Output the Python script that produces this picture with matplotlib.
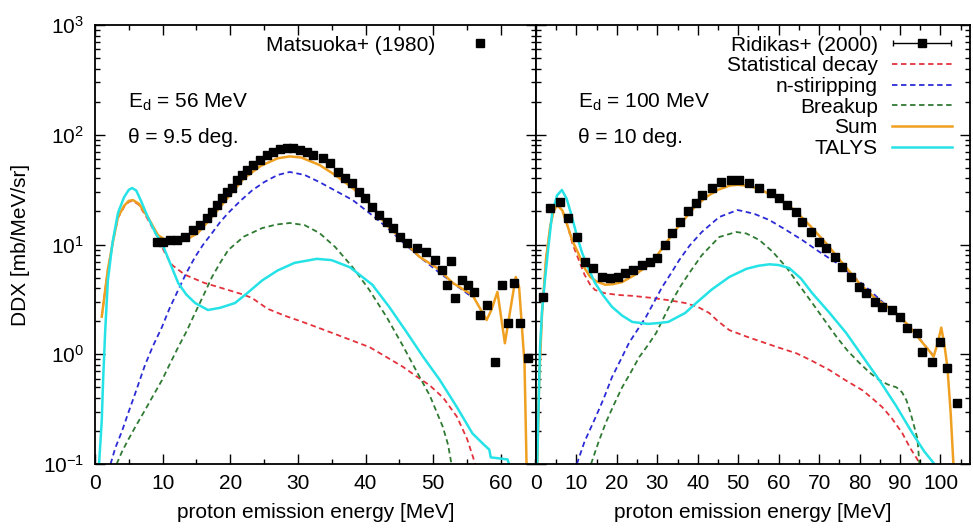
import numpy as np
import matplotlib
matplotlib.use("Agg")
import matplotlib.pyplot as plt
from matplotlib.ticker import LogLocator, MultipleLocator, NullFormatter, LogFormatterSciNotation
from matplotlib.container import ErrorbarContainer
from matplotlib.legend_handler import HandlerErrorbar

plt.rcParams['font.family'] = ['Liberation Sans', 'DejaVu Sans']
plt.rcParams['mathtext.default'] = 'regular'
plt.rcParams['font.size'] = 15

# ---- left panel: Ed = 56 MeV ----
E_m = [9.1, 10.1, 11.1, 12.1, 13.3, 14.5, 15.5, 16.5, 17.3, 18.0, 18.8, 19.5, 20.2, 21.0, 21.7,
       22.5, 23.3, 24.4, 25.4, 26.3, 27.3, 28.4, 29.2, 30.3, 31.3, 32.2, 33.7, 34.7, 35.9, 36.9,
       38.0, 39.0, 39.9, 40.9, 42.0, 43.1, 44.0, 45.1, 46.1, 47.6, 49.0, 50.2, 51.3, 52.1, 52.7,
       53.2, 54.2, 55.1, 56.1, 56.9, 58.0, 59.1, 60.1, 61.0, 62.0, 62.9, 64.0]
ddx_m = [10.5, 10.5, 10.9, 10.9, 11.7, 13.6, 15.1, 17.4, 19.8, 22.9, 26.5, 30, 33, 38.7, 43,
         47.8, 53, 59, 65, 70, 74, 76, 76, 73, 70, 65, 61, 55, 46, 40,
         36, 30, 26.5, 22, 18.6, 16, 14.1, 11.7, 10.3, 9.3, 8.5, 7.2, 5.9, 4.3, 7.1,
         3.25, 4.7, 4.3, 3.7, 2.28, 2.81, 0.85, 4.3, 1.93, 4.45, 1.93, 0.93]

E_sum_l = [1.0, 1.9, 2.7, 3.4, 4.3, 5.0, 5.6, 6.5, 7.8, 9.3, 10.4, 11.4, 12.4, 13.3, 15.2, 17.3,
           19.7, 22, 24.5, 27, 28.8, 30.5, 33.2, 35.5, 38.1, 40.5, 43.1, 45.5, 48, 50.6, 52.9,
           55.8, 57.9, 58.6, 59.5, 60.6, 62.2, 62.7, 63.5, 63.8]
sum_l = [2.2, 5.9, 11, 17.8, 22.5, 25, 25.4, 23.5, 17.8, 12.2, 11, 10.5, 10.6, 10.9, 12.7, 17.8,
         27, 40, 52, 61, 63.5, 62, 53, 43, 32.7, 24, 15, 11, 7.7, 6.1, 4.46,
         3.47, 2.05, 2.53, 3.7, 1.26, 5.06, 4.1, 0.83, 0.1]

E_stat_l = [1.0, 1.9, 2.7, 3.4, 4.3, 5.0, 5.6, 6.5, 7.8, 9.3, 10.4, 11.4, 13.3, 16.2, 19.7, 21.9,
            23.2, 25.5, 28, 30.7, 33.5, 36.6, 40.6, 43, 45.5, 47.5, 49.5, 51.5, 53.5, 55, 55.9, 56.2]
stat_l = [2.2, 5.9, 11, 17.5, 22, 24.5, 25, 23, 17, 11.5, 8.2, 6.5, 5.3, 4.46, 3.85, 3.5,
          3.26, 2.6, 2.25, 1.97, 1.7, 1.44, 1.16, 0.95, 0.77, 0.63, 0.52, 0.4, 0.27, 0.17, 0.115, 0.1]

E_ns_l = [2.3, 3, 4, 4.9, 6, 7.4, 8.6, 9.9, 11, 12.3, 13.5, 14.8, 16, 17.3, 18.5, 19.7, 21.5,
          23.2, 25, 27, 28.8, 31, 33.2, 35.5, 38.1, 40.5, 43.1, 45.5, 48, 50.5, 52.9, 55.8]
ns_l = [0.1, 0.14, 0.2, 0.29, 0.45, 0.8, 1.2, 1.77, 2.6, 3.85, 5.5, 7.7, 10, 12.7, 16, 19.4, 25,
        31, 37, 43, 45.8, 43, 37, 31, 25.4, 19.5, 14.4, 10.5, 7.7, 5.8, 4.46, 3.3]

E_bu_l = [3.2, 4, 4.9, 6, 7.4, 8.6, 9.9, 11, 12.3, 13.5, 14.8, 16, 17.3, 18.5, 19.7, 22, 24.7,
          26.8, 28.8, 31, 33.2, 35.5, 38.1, 40.5, 43.1, 45.5, 48, 49.5, 51.4, 52.2, 52.7]
bu_l = [0.1, 0.13, 0.166, 0.22, 0.31, 0.42, 0.58, 0.8, 1.16, 1.6, 2.38, 3.4, 5.06, 6.8, 8.9, 11.8, 14.1,
        15.2, 15.7, 15, 12.7, 9.5, 6.2, 3.9, 2.19, 1.2, 0.62, 0.42, 0.22, 0.15, 0.1]

E_tal_l = [0.6, 1.0, 1.2, 1.5, 1.9, 2.6, 3.4, 4.3, 5.0, 5.5, 6.1, 6.8, 7.8, 9.0, 9.9, 11, 12.3,
           13.5, 14.8, 16.7, 18.5, 20.7, 22.5, 24.7, 27, 29.5, 32.8, 35, 37.7, 41, 43.5, 46.1,
           48.5, 51, 53.5, 55.8, 57.5, 58.3, 58.5, 61, 61.2]
tal_l = [0.1, 0.25, 0.58, 1.6, 4.7, 10.5, 19.4, 27, 31.5, 32.7, 31, 25, 17.8, 12.5, 10.3, 7, 4.46,
         3.5, 2.93, 2.53, 2.65, 2.93, 3.6, 4.7, 5.8, 6.8, 7.4, 7.2, 6.2, 4.3, 2.7, 1.58,
         0.95, 0.58, 0.33, 0.19, 0.15, 0.135, 0.115, 0.11, 0.1]

# ---- right panel: Ed = 100 MeV ----
E_r = [1.8, 3.5, 5.9, 8, 10.1, 12.1, 14.1, 16.3, 18.3, 20.3, 22, 24, 26.2, 28.2, 29.9,
       31.9, 33.7, 35.6, 37.6, 39.5, 41.1, 43.6, 45.8, 48.3, 50.2, 52.7, 55.2, 58.2, 60.1, 62.1,
       64.4, 65.8, 68, 70, 71.8, 73.8, 75.7, 77.9, 79.9, 81.7, 83.7, 85.6, 87.9, 89.9, 91.8,
       94.1, 95.5, 97.8, 99.8, 101.7, 104]
ddx_r = [3.3, 21.5, 24.4, 17.4, 11.7, 6.9, 6.1, 5.06, 5.0, 5.06, 5.5, 5.9, 6.5, 6.9, 7.5,
         9.9, 12.7, 16, 20, 24, 28, 33, 37, 39, 38.7, 36, 32.7, 29.5, 26.5, 22.9,
         19.8, 16, 13, 10.5, 9.3, 7.7, 6.2, 5.06, 4.1, 3.6, 3.0, 2.7, 2.53, 2.19, 1.74,
         1.56, 1.05, 0.85, 1.29, 0.75, 0.36]

E_sum_r = [0.3, 0.8, 1.5, 2.5, 3.5, 4.3, 5.2, 6.5, 7.9, 9, 10.4, 12, 13.4, 15, 17.1, 19, 21.3,
           24.5, 26.5, 28.7, 30.5, 32.7, 34.5, 36.1, 39, 42, 45, 48, 50, 53, 56, 60, 64, 68, 72,
           76, 80, 84, 88, 92, 95, 97, 98.3, 99.4, 100.2, 101, 101.7, 102.5, 103.2]
sum_r = [0.1, 0.6, 2.4, 7.5, 14.5, 20, 22.9, 20.5, 14.4, 10.8, 8.4, 6.1, 5.06, 4.6, 4.3, 4.35, 4.55,
         5.3, 6, 6.8, 8.5, 11, 13.5, 16, 21.5, 27, 31.5, 34.5, 35, 34, 31, 26, 20.5, 14.5, 10,
         6.6, 4.4, 3.2, 2.55, 1.85, 1.35, 1.1, 0.95, 1.3, 1.75, 1.2, 0.77, 0.3, 0.1]

E_stat_r = [0.3, 0.8, 1.5, 2.5, 3.5, 4.3, 5.2, 6.5, 7.9, 9, 10.4, 12, 13.4, 14.6, 17, 20.3, 24,
            28.7, 33, 36.9, 40, 42.8, 45, 47.8, 52, 56, 60, 64.4, 68, 72.5, 76.5, 80.7, 83, 85.6,
            88, 90.6, 92.5, 94.3, 94.7]
stat_r = [0.1, 0.6, 2.4, 7.5, 14.5, 20, 22.9, 20.5, 14.4, 10.2, 7.5, 5.3, 4.3, 3.85, 3.6, 3.47, 3.4,
          3.26, 3.1, 2.93, 2.7, 2.38, 2.0, 1.66, 1.45, 1.29, 1.15, 1.02, 0.88, 0.72, 0.58, 0.47, 0.4, 0.33,
          0.26, 0.19, 0.14, 0.11, 0.1]

E_ns_r = [10.1, 12, 14.8, 16.8, 18.8, 21, 23, 25, 27.2, 29.2, 31.2, 33.3, 35.4, 38, 41, 45.3, 49.8,
          51, 54, 57.7, 61.5, 65.8, 70, 74.3, 78.5, 82.4, 86.5, 90.6, 93.5, 96.5, 98]
ns_r = [0.1, 0.16, 0.27, 0.4, 0.62, 0.9, 1.27, 1.65, 2.19, 3.0, 4.1, 5.4, 7.2, 9.8, 13, 17.8, 20.6,
        20.2, 19, 16.7, 13.8, 11, 8.6, 6.8, 5.1, 3.86, 2.8, 2.05, 1.6, 1.16, 1.0]

E_bu_r = [13.6, 15.5, 17.3, 19.3, 21.3, 23.4, 25.5, 27.6, 29.7, 31.7, 33.7, 35.8, 37.9, 41, 45.3,
          49.5, 52, 55.2, 58.5, 61.9, 65, 68.3, 71.3, 74.3, 77, 80, 82.5, 84.9, 87, 89.1, 90.5,
          91.6, 92.5, 93.1, 94.3, 94.8]
bu_r = [0.1, 0.16, 0.24, 0.35, 0.5, 0.68, 0.94, 1.2, 1.56, 2.2, 3.1, 4.2, 5.5, 8, 11.7,
        13, 12.6, 11, 8.6, 6.2, 4.3, 2.93, 2.05, 1.44, 1.08, 0.83, 0.68, 0.58, 0.53, 0.5, 0.45,
        0.38, 0.3, 0.25, 0.17, 0.1]

E_tal_r = [0.3, 0.6, 1, 1.5, 2.2, 3, 4, 5.2, 6.4, 7.6, 8.9, 10.1, 11.4, 13, 14.6, 16.7, 18.8,
           21.3, 23.8, 27.7, 30, 32.7, 36.9, 39.6, 43.5, 47.8, 52, 55, 57.7, 60, 62.6, 65.5, 68.3,
           72.5, 76.7, 80.8, 84.9, 89, 93.1, 96, 98.5]
tal_r = [0.1, 0.3, 1.16, 2.5, 4.7, 9, 19.4, 28, 31.4, 26, 17.8, 12, 8.4, 6, 4.46, 3.4, 2.7,
         2.25, 1.97, 1.89, 1.92, 1.97, 2.38, 2.93, 3.9, 5.06, 6.0, 6.4, 6.6, 6.5, 6.1, 4.9, 3.6,
         2.4, 1.56, 0.95, 0.58, 0.34, 0.19, 0.13, 0.1]

C_STAT = '#e3323c'
C_NS = '#2b2bd6'
C_BU = '#2f7a32'
C_SUM = '#f0a020'
C_TAL = '#25e2e6'


def style_axis(ax, xmax, xticks):
    ax.set_yscale('log')
    ax.set_xlim(0, xmax)
    ax.set_ylim(0.1, 1000)
    ax.set_xticks(xticks)
    ax.xaxis.set_minor_locator(MultipleLocator(5))
    ax.yaxis.set_major_locator(LogLocator(base=10, numticks=10))
    ax.yaxis.set_minor_locator(LogLocator(base=10, subs=np.arange(2, 10), numticks=20))
    ax.yaxis.set_minor_formatter(NullFormatter())
    ax.tick_params(which='both', direction='in', top=True, right=True, width=1.0)
    ax.tick_params(which='major', length=7)
    ax.tick_params(which='minor', length=3.5)
    ax.tick_params(axis='x', pad=7)
    ax.tick_params(axis='y', pad=8)
    for sp in ax.spines.values():
        sp.set_linewidth(1.3)


def draw_curves(ax, E_st, st, E_ns, ns, E_bu, bu, E_su, su, E_ta, ta):
    ax.plot(E_st, st, color=C_STAT, lw=1.3, dashes=(3, 2), label='Statistical decay')
    ax.plot(E_ns, ns, color=C_NS, lw=1.3, dashes=(3, 2), label='n-stiripping')
    ax.plot(E_bu, bu, color=C_BU, lw=1.3, dashes=(3, 2), label='Breakup')
    ax.plot(E_su, su, color=C_SUM, lw=1.8, label='Sum')
    ax.plot(E_ta, ta, color=C_TAL, lw=1.8, label='TALYS')


fig = plt.figure(figsize=(9.73, 5.30), dpi=100)
W, H = 973.0, 530.0
ax1 = fig.add_axes([95 / W, (530 - 464) / H, (536 - 95) / W, (464 - 25) / H])
ax2 = fig.add_axes([536 / W, (530 - 464) / H, (970 - 536) / W, (464 - 25) / H])

# left
draw_curves(ax1, E_stat_l, stat_l, E_ns_l, ns_l, E_bu_l, bu_l, E_sum_l, sum_l, E_tal_l, tal_l)
pts1, = ax1.plot(E_m, ddx_m, 's', color='black', ms=5.5, label='Matsuoka+ (1980)', zorder=5)
style_axis(ax1, 65.2, np.arange(0, 61, 10))
ax1.yaxis.set_major_formatter(LogFormatterSciNotation())
ax1.set_xlabel('proton emission energy [MeV]')
ax1.set_ylabel('DDX [mb/MeV/sr]')
ax1.xaxis.set_label_coords(0.5, -0.089)
ax1.yaxis.set_label_coords(-0.147, 0.5)
ax1.text(0.075, 0.811, r'E$_d$ = 56 MeV', transform=ax1.transAxes, va='baseline')
ax1.text(0.075, 0.731, 'θ = 9.5 deg.', transform=ax1.transAxes, va='baseline')
ax1.legend(handles=[pts1], loc='upper right', bbox_to_anchor=(0.959, 0.995), frameon=False,
           markerfirst=False, handlelength=2.85, borderaxespad=0, handletextpad=0.7)

# right
draw_curves(ax2, E_stat_r, stat_r, E_ns_r, ns_r, E_bu_r, bu_r, E_sum_r, sum_r, E_tal_r, tal_r)
eb = ax2.errorbar(E_r, ddx_r, xerr=0, fmt='s', color='black', ms=5.5, lw=1.0,
                  capsize=2.5, label='Ridikas+ (2000)', zorder=5)
style_axis(ax2, 107.3, np.arange(0, 101, 10))
ax2.yaxis.set_major_formatter(NullFormatter())
ax2.set_xlabel('proton emission energy [MeV]')
ax2.xaxis.set_label_coords(0.5, -0.089)
ax2.text(0.097, 0.811, r'E$_d$ = 100 MeV', transform=ax2.transAxes, va='baseline')
ax2.text(0.097, 0.731, 'θ = 10 deg.', transform=ax2.transAxes, va='baseline')
h, l = ax2.get_legend_handles_labels()
order = [l.index(n) for n in ['Ridikas+ (2000)', 'Statistical decay', 'n-stiripping',
                              'Breakup', 'Sum', 'TALYS']]
ax2.legend([h[i] for i in order], [l[i] for i in order], loc='upper right',
           bbox_to_anchor=(0.977, 0.995), frameon=False, markerfirst=False,
           handlelength=2.85, borderaxespad=0, handletextpad=0.7, labelspacing=0.08,
           handler_map={ErrorbarContainer: HandlerErrorbar(xerr_size=1.4)})

fig.savefig('out.png', dpi=100)
